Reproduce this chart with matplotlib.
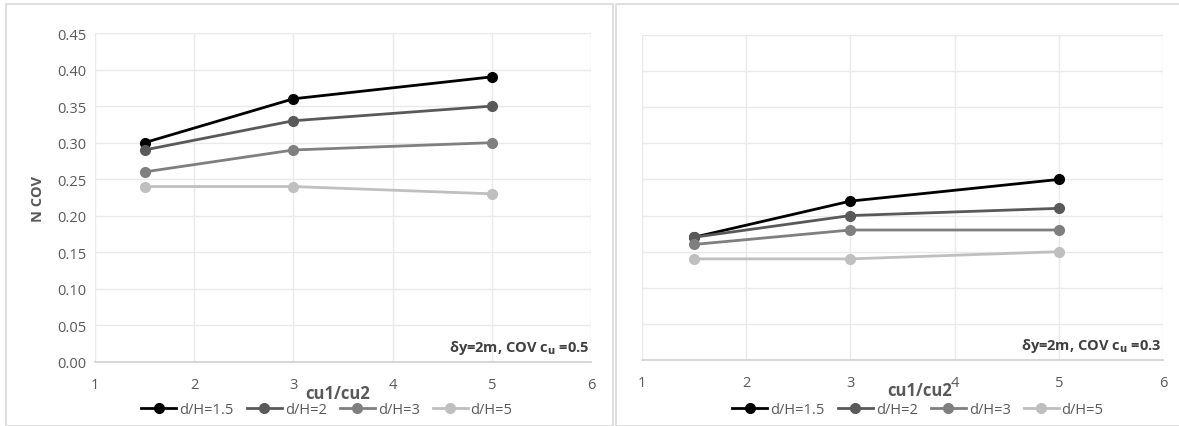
import matplotlib.pyplot as plt
from matplotlib.patches import Rectangle

plt.rcParams['font.family'] = ['Open Sans', 'DejaVu Sans']

# data
ratio = [1.5, 3, 5]
labels = ["d/H=1.5", "d/H=2", "d/H=3", "d/H=5"]
colores = ["#000000", "#595959", "#7f7f7f", "#bfbfbf"]

cov_05 = [[0.30, 0.36, 0.39],
          [0.29, 0.33, 0.35],
          [0.26, 0.29, 0.30],
          [0.24, 0.24, 0.23]]
cov_03 = [[0.17, 0.22, 0.25],
          [0.17, 0.20, 0.21],
          [0.16, 0.18, 0.18],
          [0.14, 0.14, 0.15]]

y_ticks = [0.00, 0.05, 0.10, 0.15, 0.20, 0.25, 0.30, 0.35, 0.40, 0.45]
x_ticks = [1, 2, 3, 4, 5, 6]

W, H = 1179, 427
fig = plt.figure(figsize=(W/100, H/100), dpi=100)

# marcos de cada grafico
fig.patches.append(Rectangle((6/W, 0), 607/W, (H-5)/H, transform=fig.transFigure,
                             fill=False, edgecolor="#d9d9d9", lw=1.2))
fig.patches.append(Rectangle((616/W, 0), 600/W, (H-5)/H, transform=fig.transFigure,
                             fill=False, edgecolor="#d9d9d9", lw=1.2))

ax1 = fig.add_axes([95/W, (H-363)/H, (591-95)/W, (363-34)/H])
ax2 = fig.add_axes([642/W, (H-361)/H, (1163-642)/W, (361-36)/H])

for ax, datos, texto, ylab in [(ax1, cov_05, "0.5", True), (ax2, cov_03, "0.3", False)]:
    for serie, lab, c in zip(datos, labels, colores):
        ax.plot(ratio, serie, color=c, lw=2, marker="o", markersize=7, label=lab, zorder=3)
    ax.set_xlim(1, 6)
    ax.set_ylim(0, 0.45)
    ax.set_xticks(x_ticks)
    ax.set_yticks(y_ticks)
    if ylab:
        ax.set_yticklabels(["%.2f" % v for v in y_ticks])
        ax.set_ylabel("N COV", fontsize=10.5, fontweight="bold", color="#595959", labelpad=9)
    else:
        ax.set_yticklabels([])
    ax.grid(True, color="#e9e9e9", lw=1)
    ax.set_axisbelow(True)
    for s in ["top", "right", "left"]:
        ax.spines[s].set_visible(False)
    ax.spines["bottom"].set_color("#d0d0d0")
    ax.spines["bottom"].set_linewidth(1.2)
    ax.tick_params(length=0, labelsize=10.5, colors="#595959", pad=11)
    ax.tick_params(axis="y", pad=6)
    ax.text(0.997, 0.045, r"δy=2m, COV c$_\mathbf{u}$ =" + texto, transform=ax.transAxes,
            ha="right", va="center", fontsize=10.5, fontweight="bold", color="#404040")

ax1.text(338/W, (H-394)/H, "cu1/cu2", transform=fig.transFigure, ha="center", va="center",
         fontsize=12, fontweight="bold", color="#595959")
ax2.text(920/W, (H-391)/H, "cu1/cu2", transform=fig.transFigure, ha="center", va="center",
         fontsize=12, fontweight="bold", color="#595959")

for ax, cx in [(ax1, 327), (ax2, 918)]:
    leg = ax.legend(loc="center", bbox_to_anchor=(cx/W, (H-411)/H), bbox_transform=fig.transFigure,
                    ncol=4, frameon=False, fontsize=10.5, handlelength=2.4, columnspacing=0.9,
                    handletextpad=0.2, borderpad=0)
    for t in leg.get_texts():
        t.set_color("#595959")

fig.savefig("out.png", dpi=100)
